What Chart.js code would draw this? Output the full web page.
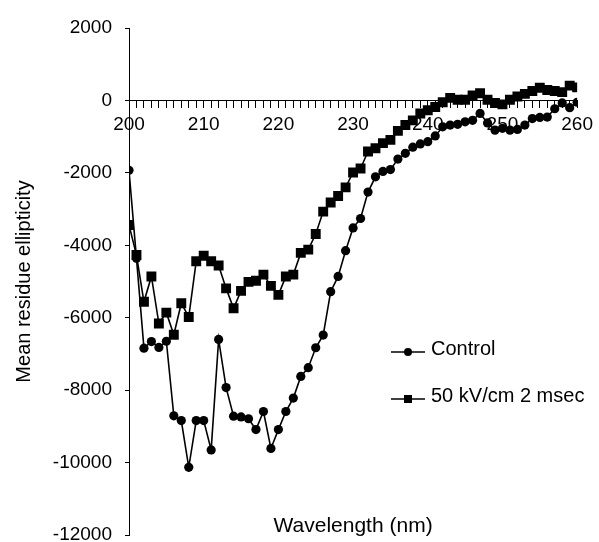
<!DOCTYPE html>
<html>
<head>
<meta charset="utf-8">
<script src="https://cdn.jsdelivr.net/npm/chart.js@4.4.1/dist/chart.umd.min.js"></script>
<style>
  html, body { margin: 0; padding: 0; background: #fff; }
  canvas { display: block; }
</style>
</head>
<body>
<canvas id="chart" width="599" height="542"></canvas>
<script>
// wavelength in nm
const wavelengths = [
  200, 201, 202, 203, 204, 205, 206, 207, 208, 209,
  210, 211, 212, 213, 214, 215, 216, 217, 218, 219,
  220, 221, 222, 223, 224, 225, 226, 227, 228, 229,
  230, 231, 232, 233, 234, 235, 236, 237, 238, 239,
  240, 241, 242, 243, 244, 245, 246, 247, 248, 249,
  250, 251, 252, 253, 254, 255, 256, 257, 258, 259,
  260
];

const controlValues = [
  -1930, -4360, -6840, -6660, -6820, -6650, -8710, -8840, -10130, -8840,
  -8840, -9650, -6600, -7930, -8720, -8740, -8790, -9090, -8590, -9610,
  -9090, -8590, -8220, -7620, -7380, -6830, -6480, -5280, -4860, -4150,
  -3520, -3260, -2530, -2110, -1960, -1910, -1620, -1460, -1290, -1200,
  -1140, -980, -730, -680, -660, -590, -550, -360, -620, -820,
  -770, -820, -800, -680, -500, -470, -460, -230, -70, -200,
  -50
];

const pulsedValues = [
  -3440, -4270, -5560, -4860, -6160, -5860, -6470, -5600, -5980, -4440,
  -4290, -4440, -4560, -5190, -5740, -5260, -5010, -4980, -4810, -5120,
  -5370, -4860, -4810, -4210, -4120, -3690, -3070, -2820, -2640, -2400,
  -1990, -1880, -1410, -1320, -1180, -1090, -840, -680, -550, -360,
  -270, -180, -50, 70, 20, 20, 140, 200, 20, -70,
  -110, 20, 110, 180, 260, 350, 290, 260, 230, 410,
  360
];

const seriesLabels = ["Control", "50 kV/cm 2 msec"];
const xLabelTicks = [200, 210, 220, 230, 240, 250, 260];
const xTitle = "Wavelength (nm)";
const yTitle = "Mean residue ellipticity";

const FONT = "'Liberation Sans', Arial, sans-serif";

function toPoints(values) {
  return wavelengths.map((w, i) => ({ x: w, y: values[i] }));
}

// legend + x title drawn by hand, the original has them inside the plot
const extras = {
  id: "extras",
  afterDraw(chart) {
    const ctx = chart.ctx;
    const area = chart.chartArea;
    ctx.save();
    ctx.fillStyle = "#000";
    ctx.font = "21px " + FONT;
    ctx.textAlign = "center";
    ctx.textBaseline = "middle";
    ctx.fillText(xTitle, (area.left + area.right) / 2, 526);

    ctx.font = "20px " + FONT;
    const rows = [352, 399];
    chart.data.datasets.forEach((ds, i) => {
      const y = rows[i];
      ctx.strokeStyle = "#000";
      ctx.lineWidth = 1.5;
      ctx.beginPath();
      ctx.moveTo(391, y);
      ctx.lineTo(425, y);
      ctx.stroke();
      ctx.beginPath();
      if (ds.pointStyle === "rect") {
        ctx.rect(404, y - 4, 8, 8);
      } else {
        ctx.arc(408, y, 4, 0, Math.PI * 2);
      }
      ctx.fill();
      ctx.textAlign = "left";
      ctx.textBaseline = "alphabetic";
      ctx.fillText(ds.label, 431, y + 2.5);
    });
    ctx.restore();
  }
};

new Chart(document.getElementById("chart").getContext("2d"), {
  type: "line",
  data: {
    datasets: [
      {
        label: seriesLabels[0],
        data: toPoints(controlValues),
        borderColor: "#000",
        backgroundColor: "#000",
        borderWidth: 1.6,
        pointStyle: "circle",
        pointRadius: 4.6,
        pointBorderWidth: 0,
        tension: 0,
      },
      {
        label: seriesLabels[1],
        data: toPoints(pulsedValues),
        borderColor: "#000",
        backgroundColor: "#000",
        borderWidth: 1.6,
        pointStyle: "rect",
        pointRadius: 7,
        pointBorderWidth: 0,
        tension: 0,
      },
    ],
  },
  options: {
    responsive: false,
    animation: false,
    layout: { padding: { top: 28, right: 19, bottom: 4, left: 0 } },
    plugins: {
      legend: { display: false },
      tooltip: { enabled: false },
    },
    scales: {
      x: {
        type: "linear",
        min: 200,
        max: 260,
        position: { y: 0 },
        border: { display: true, color: "#000", width: 1 },
        grid: { drawOnChartArea: false, drawTicks: true, tickLength: 7, color: "#000" },
        ticks: {
          stepSize: 1,
          maxTicksLimit: 100,
          autoSkip: false,
          maxRotation: 0,
          padding: 6,
          color: "#000",
          font: { family: FONT, size: 19 },
          callback: (v) => (xLabelTicks.includes(v) ? String(v) : ""),
        },
      },
      y: {
        min: -12000,
        max: 2000,
        border: { display: true, color: "#000", width: 1 },
        grid: { drawOnChartArea: false, drawTicks: true, tickLength: 4, color: "#000" },
        ticks: {
          stepSize: 2000,
          padding: 13,
          color: "#000",
          font: { family: FONT, size: 19 },
          callback: (v) => String(v),
        },
        title: {
          display: true,
          text: yTitle,
          color: "#000",
          font: { family: FONT, size: 20 },
          padding: { top: 12, bottom: 0 },
        },
        afterFit: (scale) => {
          scale.width = 129;
          scale.paddingBottom = 0;
        },
      },
    },
  },
  plugins: [extras],
});
</script>
</body>
</html>
